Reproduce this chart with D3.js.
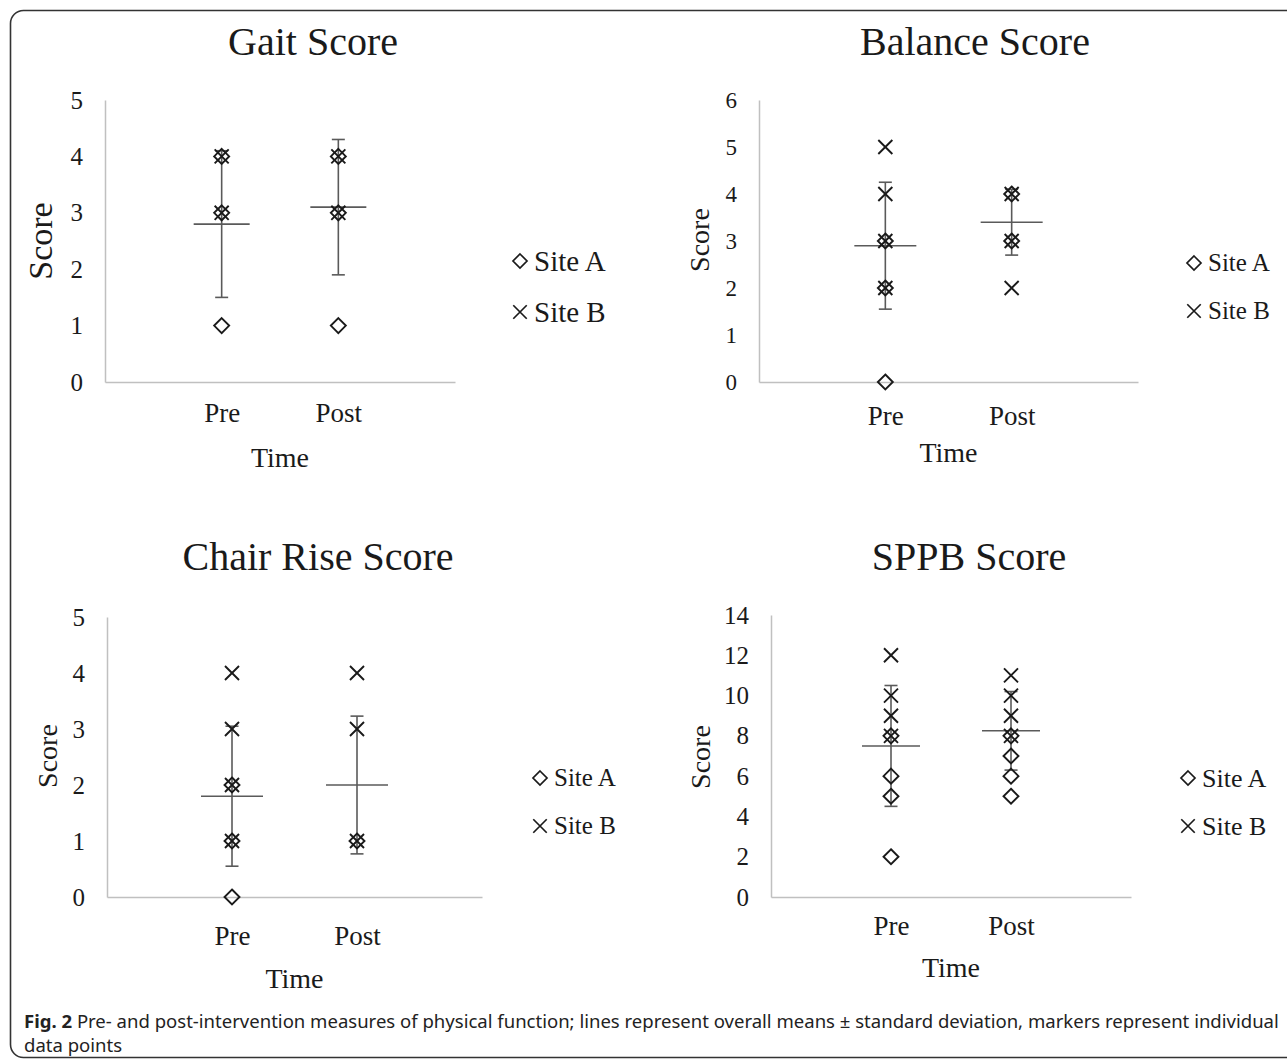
<!DOCTYPE html>
<html>
<head>
<meta charset="utf-8">
<script src="https://cdn.jsdelivr.net/npm/d3@7"></script>
<style>
  body { margin: 0; background: #fff; }
  svg { display: block; }
</style>
</head>
<body>
<div id="chart"></div>
<script>
// categories on the x axis
var categories = ["Pre", "Post"];
var siteNames = ["Site A", "Site B"];

// individual data points, [pre values, post values]
var gaitSiteA = [[1, 3, 4], [1, 3, 4]];
var gaitSiteB = [[3, 4], [3, 4]];
var gaitMean = [2.8, 3.1];
var gaitSd = [1.3, 1.2];

var balanceSiteA = [[0, 2, 3], [3, 4]];
var balanceSiteB = [[2, 3, 4, 5], [2, 3, 4]];
var balanceMean = [2.9, 3.4];
var balanceSd = [1.35, 0.7];

var chairSiteA = [[0, 1, 2], [1]];
var chairSiteB = [[1, 2, 3, 4], [1, 3, 4]];
var chairMean = [1.8, 2.0];
var chairSd = [1.25, 1.23];

var sppbSiteA = [[2, 5, 6, 8], [5, 6, 7, 8]];
var sppbSiteB = [[8, 9, 10, 12], [8, 9, 10, 11]];
var sppbMean = [7.5, 8.25];
var sppbSd = [3.0, 1.95];

var gaitTicks = [0, 1, 2, 3, 4, 5];
var balanceTicks = [0, 1, 2, 3, 4, 5, 6];
var chairTicks = [0, 1, 2, 3, 4, 5];
var sppbTicks = [0, 2, 4, 6, 8, 10, 12, 14];

var captionBold = "Fig. 2";
var captionLine1 = " Pre- and post-intervention measures of physical function; lines represent overall means \u00b1 standard deviation, markers represent individual";
var captionLine2 = "data points";

var width = 1287;
var height = 1060;
var serif = "'Liberation Serif', 'Times New Roman', serif";
var ink = "#1a1a1a";

var svg = d3.select("#chart")
	.append("svg")
	.attr("width", width)
	.attr("height", height);

// outer frame, right edge runs off the page
svg.append("rect")
	.attr("x", 10.5).attr("y", 10.5)
	.attr("width", 1300).attr("height", 1047)
	.attr("rx", 13).attr("ry", 13)
	.attr("fill", "none")
	.attr("stroke", "#333")
	.attr("stroke-width", 1.6);

var panels = [
	{ title: "Gait Score", siteA: gaitSiteA, siteB: gaitSiteB, mean: gaitMean, sd: gaitSd, ticks: gaitTicks,
	  left: 105, right: 455, bottom: 382, top: 100,
	  titleX: 313, titleY: 55, tickSize: 25, scoreSize: 34, scoreX: 52, scoreY: 241,
	  catY: 422, timeY: 467, meanHalf: 28, legX: 520, legY: [261, 312], legSize: 29 },
	{ title: "Balance Score", siteA: balanceSiteA, siteB: balanceSiteB, mean: balanceMean, sd: balanceSd, ticks: balanceTicks,
	  left: 759, right: 1138, bottom: 382, top: 100,
	  titleX: 975, titleY: 55, tickSize: 23, scoreSize: 28, scoreX: 709, scoreY: 240,
	  catY: 425, timeY: 462, meanHalf: 31, legX: 1194, legY: [263, 311], legSize: 25 },
	{ title: "Chair Rise Score", siteA: chairSiteA, siteB: chairSiteB, mean: chairMean, sd: chairSd, ticks: chairTicks,
	  left: 107, right: 482, bottom: 897, top: 617,
	  titleX: 318, titleY: 570, tickSize: 25, scoreSize: 28, scoreX: 57, scoreY: 756,
	  catY: 945, timeY: 988, meanHalf: 31, legX: 540, legY: [778, 826], legSize: 25 },
	{ title: "SPPB Score", siteA: sppbSiteA, siteB: sppbSiteB, mean: sppbMean, sd: sppbSd, ticks: sppbTicks,
	  left: 771, right: 1131, bottom: 897, top: 615,
	  titleX: 969, titleY: 570, tickSize: 25, scoreSize: 28, scoreX: 710, scoreY: 757,
	  catY: 935, timeY: 977, meanHalf: 29, legX: 1188, legY: [778, 826], legSize: 26 }
];

var diamond = d3.symbol().type(d3.symbolDiamond2).size(143);
var cross = d3.symbol().type(d3.symbolTimes).size(130);

panels.forEach(function(p) {
	var x = d3.scaleLinear().domain([0, 3]).range([p.left, p.right]);
	var y = d3.scaleLinear().domain([0, d3.max(p.ticks)]).range([p.bottom, p.top]);
	var g = svg.append("g");

	// title
	g.append("text")
		.attr("x", p.titleX).attr("y", p.titleY)
		.attr("text-anchor", "middle")
		.style("font-family", serif).style("font-size", "40px")
		.attr("fill", ink)
		.text(p.title);

	// y axis
	var yAxis = g.append("g")
		.attr("transform", "translate(" + p.left + ",0)")
		.call(d3.axisLeft(y).tickValues(p.ticks).tickFormat(d3.format("d"))
			.tickSize(0).tickSizeOuter(0).tickPadding(22));
	yAxis.select(".domain").attr("stroke", "#c0c0c0").attr("stroke-width", 1.5);
	yAxis.selectAll("text")
		.style("font-family", serif).style("font-size", p.tickSize + "px")
		.attr("fill", ink);

	// x axis
	var xAxis = g.append("g")
		.attr("transform", "translate(0," + p.bottom + ")")
		.call(d3.axisBottom(x).tickValues([1, 2])
			.tickFormat(function(d) { return categories[d - 1]; })
			.tickSize(0).tickSizeOuter(0));
	xAxis.select(".domain").attr("stroke", "#c0c0c0").attr("stroke-width", 1.5);
	xAxis.selectAll("text")
		.attr("y", p.catY - p.bottom).attr("dy", 0)
		.style("font-family", serif).style("font-size", "27px")
		.attr("fill", ink);

	// axis titles
	g.append("text")
		.attr("transform", "translate(" + p.scoreX + "," + p.scoreY + ") rotate(-90)")
		.attr("text-anchor", "middle")
		.style("font-family", serif).style("font-size", p.scoreSize + "px")
		.attr("fill", ink)
		.text("Score");
	g.append("text")
		.attr("x", (p.left + p.right) / 2).attr("y", p.timeY)
		.attr("text-anchor", "middle")
		.style("font-family", serif).style("font-size", "28px")
		.attr("fill", ink)
		.text("Time");

	// mean +- sd
	var stats = categories.map(function(c, i) {
		return { cx: x(i + 1), mean: p.mean[i], sd: p.sd[i] };
	});
	var bars = g.append("g")
		.attr("stroke", "#5a5a5a")
		.attr("stroke-width", 1.6)
		.attr("fill", "none");
	bars.selectAll(".vert").data(stats).enter().append("line")
		.attr("x1", function(d) { return d.cx; }).attr("x2", function(d) { return d.cx; })
		.attr("y1", function(d) { return y(d.mean - d.sd); })
		.attr("y2", function(d) { return y(d.mean + d.sd); });
	bars.selectAll(".capLo").data(stats).enter().append("line")
		.attr("x1", function(d) { return d.cx - 6.5; }).attr("x2", function(d) { return d.cx + 6.5; })
		.attr("y1", function(d) { return y(d.mean - d.sd); })
		.attr("y2", function(d) { return y(d.mean - d.sd); });
	bars.selectAll(".capHi").data(stats).enter().append("line")
		.attr("x1", function(d) { return d.cx - 6.5; }).attr("x2", function(d) { return d.cx + 6.5; })
		.attr("y1", function(d) { return y(d.mean + d.sd); })
		.attr("y2", function(d) { return y(d.mean + d.sd); });
	bars.selectAll(".mean").data(stats).enter().append("line")
		.attr("x1", function(d) { return d.cx - p.meanHalf; }).attr("x2", function(d) { return d.cx + p.meanHalf; })
		.attr("y1", function(d) { return y(d.mean); })
		.attr("y2", function(d) { return y(d.mean); });

	// individual points
	function flatten(arr) {
		var out = [];
		arr.forEach(function(vals, i) {
			vals.forEach(function(v) { out.push({ i: i, v: v }); });
		});
		return out;
	}
	g.selectAll(".siteA").data(flatten(p.siteA)).enter().append("path")
		.attr("transform", function(d) { return "translate(" + x(d.i + 1) + "," + y(d.v) + ")"; })
		.attr("d", diamond)
		.attr("fill", "none").attr("stroke", ink).attr("stroke-width", 1.9);
	g.selectAll(".siteB").data(flatten(p.siteB)).enter().append("path")
		.attr("transform", function(d) { return "translate(" + x(d.i + 1) + "," + y(d.v) + ")"; })
		.attr("d", cross)
		.attr("fill", "none").attr("stroke", ink).attr("stroke-width", 1.9);

	// legend
	var leg = g.selectAll(".leg").data(siteNames).enter().append("g")
		.attr("transform", function(d, i) { return "translate(" + p.legX + "," + p.legY[i] + ")"; });
	leg.append("path")
		.attr("d", function(d, i) { return i == 0 ? d3.symbol().type(d3.symbolDiamond2).size(125)() : d3.symbol().type(d3.symbolTimes).size(120)(); })
		.attr("fill", "none").attr("stroke", ink).attr("stroke-width", 1.7);
	leg.append("text")
		.attr("x", 14).attr("y", 0).attr("dy", "0.33em")
		.style("font-family", serif).style("font-size", p.legSize + "px")
		.attr("fill", ink)
		.text(function(d) { return d; });
});

// caption
var cap1 = svg.append("text")
	.attr("x", 24).attr("y", 1028)
	.style("font-family", "'Noto Sans', sans-serif").style("font-size", "18px")
	.attr("fill", "#222");
cap1.append("tspan").style("font-weight", "bold").text(captionBold);
cap1.append("tspan").text(captionLine1);
var cap2 = svg.append("text")
	.attr("x", 24).attr("y", 1052)
	.style("font-family", "'Noto Sans', sans-serif").style("font-size", "18px")
	.attr("fill", "#222")
	.text(captionLine2);

// squeeze the caption font to the width the figure uses
var w = cap1.node().getComputedTextLength();
var fs = 18 * (1256 / w);
cap1.style("font-size", fs + "px");
cap2.style("font-size", fs + "px");
</script>
</body>
</html>
